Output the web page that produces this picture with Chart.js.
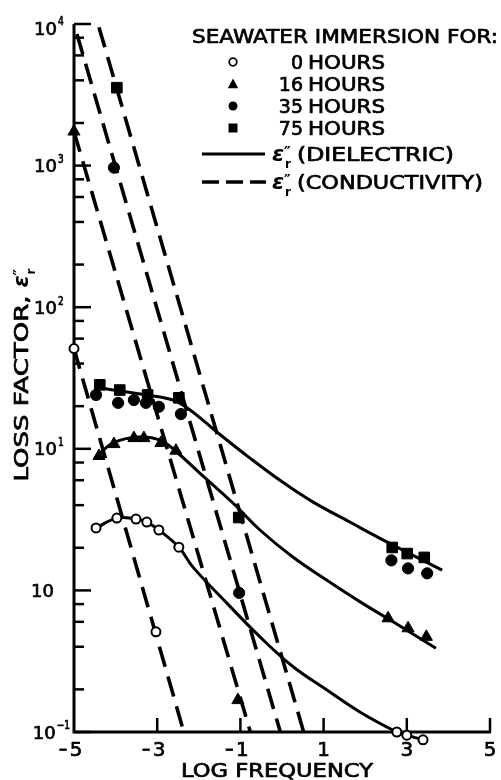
<!DOCTYPE html>
<html><head><meta charset="utf-8">
<script src="https://cdn.jsdelivr.net/npm/chart.js@4.4.1/dist/chart.umd.min.js"></script>
<style>html,body{margin:0;padding:0;background:#fff;}#wrap{position:relative;width:501px;height:780px;}</style>
</head><body><div id="wrap"><canvas id="c" width="501" height="780"></canvas></div>
<script>
// ---------- text / ticks ----------
const xTickValues = [-5, -3, -1, 1, 3, 5];
const xTickLabels = ['−5', '−3', '−1', '1', '3', '5'];
const yTickValues = [0.1, 1, 10, 100, 1000, 10000];
const yTickBase = ['10', '10', '10', '10', '10', '10'];
const yTickExp = ['−1', '', '1', '2', '3', '4'];
const yMinorTicks = [0.2, 0.4, 0.6, 0.8, 2, 4, 6, 8, 20, 40, 60, 80, 200, 400, 600, 800, 2000, 4000, 6000, 8000];
const legendTitle = 'SEAWATER IMMERSION FOR:';
const seriesNames = ['0 HOURS', '16 HOURS', '35 HOURS', '75 HOURS'];
const lineNames = ['(DIELECTRIC)', '(CONDUCTIVITY)'];
const xTitle = 'LOG FREQUENCY';
const yTitle = 'LOSS FACTOR,';

// ---------- measured points ----------
const h0X = [-5, -4.47, -3.97, -3.51, -3.25, -2.96, -2.48, -3.03, 2.76, 3.00, 3.39];
const h0Y = [51, 2.76, 3.24, 3.19, 3.04, 2.67, 2.02, 0.51, 0.1, 0.095, 0.088];
const h16X = [-5, -4.40, -4.04, -3.56, -3.32, -2.91, -2.55, -1.06, 2.55, 3.03, 3.47];
const h16Y = [1740, 8.9, 10.8, 11.9, 11.9, 11.0, 9.7, 0.168, 0.635, 0.54, 0.47];
const h35X = [-4.04, -4.47, -3.94, -3.56, -3.27, -2.96, -2.43, -1.03, 2.63, 3.03, 3.49];
const h35Y = [968, 24.0, 21.1, 22.1, 21.1, 19.8, 17.6, 0.96, 1.63, 1.43, 1.32];
const h75X = [-3.97, -4.38, -3.90, -3.23, -2.48, -1.04, 2.65, 3.01, 3.42];
const h75Y = [3550, 28.3, 26.0, 24.0, 22.9, 3.27, 2.01, 1.82, 1.71];

// ---------- dielectric curves (solid) ----------
const d0X = [-4.47, -3.97, -3.51, -3.25, -2.96, -2.48, -2.14, -1.32, -0.53, 0.26, 1.08, 1.88, 2.76, 3.00, 3.39];
const d0Y = [2.76, 3.24, 3.19, 3.04, 2.67, 2.02, 1.46, 0.81, 0.47, 0.29, 0.198, 0.138, 0.1, 0.095, 0.088];
const d16X = [-4.42, -4.06, -3.46, -2.93, -2.50, -1.97, -1.18, -0.53, 0.26, 1.08, 1.88, 2.67, 3.70];
const d16Y = [9.04, 11.0, 12.1, 11.5, 9.3, 6.7, 4.14, 2.67, 1.72, 1.18, 0.83, 0.60, 0.39];
const d75X = [-4.45, -4.06, -3.25, -2.62, -2.21, -1.56, -0.77, 0.02, 0.75, 1.63, 2.52, 3.85];
const d75Y = [27.3, 26.0, 24.0, 22.1, 18.8, 13.1, 8.6, 5.8, 4.2, 3.04, 2.2, 1.39];

// ---------- conductivity lines (dashed) ----------
const c0X = [-5, -2.36], c0Y = [51, 0.1];
const c16X = [-5, -0.76], c16Y = [1740, 0.1];
const c35X = [-4.93, -0.04], c35Y = [8500, 0.1];
const c75X = [-4.40, 0.52], c75Y = [9500, 0.1];

const pts = (xs, ys) => xs.map((v, i) => ({x: v, y: ys[i]}));
const FONT = '"DejaVu Sans", "Liberation Sans", sans-serif';

function markerSet(xs, ys, style, r, fill) {
  return {data: pts(xs, ys), showLine: false, pointStyle: style, pointRadius: r, pointHoverRadius: r,
    backgroundColor: fill, borderColor: '#000', borderWidth: fill === '#fff' ? 2 : 1, clip: false, order: 0};
}
function solidSet(xs, ys) {
  return {data: pts(xs, ys), showLine: true, pointRadius: 0, borderColor: '#000', borderWidth: 3,
    tension: 0.4, fill: false, clip: false, order: 1};
}
function dashSet(xs, ys) {
  return {data: pts(xs, ys), showLine: true, pointRadius: 0, borderColor: '#000', borderWidth: 3.6,
    borderDash: [21, 10], fill: false, clip: false, order: 2};
}

function txt(ctx, s, x, yc, size, o) {
  o = o || {};
  const align = o.align || 'left';
  ctx.save();
  ctx.font = (o.weight || 'normal') + ' ' + size + 'px ' + FONT;
  const w0 = ctx.measureText(s).width;
  const k = o.width ? o.width / w0 : (o.sx || 1);
  const w = w0 * k;
  const x0 = align === 'center' ? x - w / 2 : align === 'right' ? x - w : x;
  ctx.translate(x0, yc + size * 0.365);
  ctx.scale(k, 1);
  ctx.textAlign = 'left'; ctx.textBaseline = 'alphabetic'; ctx.fillStyle = '#000';
  ctx.strokeStyle = '#000'; ctx.lineWidth = 0.7; ctx.lineJoin = 'round';
  ctx.fillText(s, 0, 0);
  ctx.strokeText(s, 0, 0);
  ctx.restore();
  return w;
}
function eps(ctx, x, yc) {
  ctx.save(); ctx.fillStyle = '#000'; ctx.textAlign = 'left'; ctx.textBaseline = 'alphabetic';
  ctx.font = 'bold italic 22px ' + FONT; ctx.fillText('ε', x, yc + 7);
  ctx.font = 'bold 15px ' + FONT; ctx.fillText('″', x + 12, yc + 4);
  ctx.font = 'bold 12px ' + FONT; ctx.fillText('r', x + 13, yc + 14);
  ctx.restore();
  return 25;
}
function marker(ctx, style, x, y, r) {
  ctx.save(); ctx.fillStyle = '#000'; ctx.strokeStyle = '#000'; ctx.lineWidth = 1.8;
  ctx.beginPath();
  if (style === 'open') { ctx.arc(x, y, r, 0, 2 * Math.PI); ctx.fillStyle = '#fff'; ctx.fill(); ctx.stroke(); }
  else if (style === 'circle') { ctx.arc(x, y, r, 0, 2 * Math.PI); ctx.fill(); }
  else if (style === 'triangle') { ctx.moveTo(x, y - r); ctx.lineTo(x + r * 0.95, y + r * 0.75); ctx.lineTo(x - r * 0.95, y + r * 0.75); ctx.closePath(); ctx.fill(); }
  else { ctx.rect(x - r, y - r, 2 * r, 2 * r); ctx.fill(); }
  ctx.restore();
}
function seg(ctx, x1, y1, x2, y2) { ctx.beginPath(); ctx.moveTo(x1, y1); ctx.lineTo(x2, y2); ctx.stroke(); }

const axesPlugin = {
  id: 'axesPlugin',
  beforeDatasetsDraw(chart) {
    const {ctx, chartArea: a, scales: {x, y}} = chart;
    const yb = y.getPixelForValue(yTickValues[0]);
    ctx.save(); ctx.strokeStyle = '#000'; ctx.lineCap = 'butt';
    ctx.lineWidth = 3;
    ctx.beginPath(); ctx.moveTo(a.left, a.top); ctx.lineTo(a.left, yb); ctx.lineTo(a.right + 1, yb); ctx.stroke();
    ctx.lineWidth = 2.5;
    yTickValues.forEach(v => { const p = y.getPixelForValue(v); seg(ctx, a.left, p, a.left + 17, p); });
    yMinorTicks.forEach(v => { const p = y.getPixelForValue(v); seg(ctx, a.left, p, a.left + 10, p); });
    xTickValues.forEach(v => { if (v === x.min) return; const p = x.getPixelForValue(v); seg(ctx, p, yb, p, yb - 14); });
    ctx.restore();
  },
  afterDraw(chart) {
    const {ctx, chartArea: a, scales: {x, y}} = chart;
    const yb = y.getPixelForValue(yTickValues[0]);
    // y tick labels
    yTickValues.forEach((v, i) => {
      const p = Math.max(y.getPixelForValue(v), a.top + 4);
      let ew = 0;
      if (yTickExp[i]) {
        ctx.save(); ctx.font = '12px ' + FONT; ew = ctx.measureText(yTickExp[i]).width * 0.75; ctx.restore();
      }
      const baseRight = yTickExp[i] ? Math.min(57, 69 - ew) : 54;
      txt(ctx, yTickBase[i], baseRight, p, 18, {align: 'right'});
      if (yTickExp[i]) txt(ctx, yTickExp[i], baseRight + 1, p - 7, 12, {sx: 0.75});
    });
    // x tick labels
    xTickValues.forEach((v, i) => {
      const p = x.getPixelForValue(v);
      const s = xTickLabels[i];
      const neg = s.charAt(0) === '−';
      const d = neg ? s.slice(1) : s;
      const w = txt(ctx, d, p + (neg ? 2 : 0), yb + 17, 20, {align: 'center'});
      if (neg) txt(ctx, '−', p + 2 - w / 2 - 2, yb + 17, 20, {align: 'right', sx: 0.55});
    });
    // axis titles
    txt(ctx, xTitle, (a.left + a.right) / 2 - 5, yb + 38, 19, {align: 'center', width: 192});
    ctx.save();
    ctx.translate(21, 372); ctx.rotate(-Math.PI / 2);
    const tw = 186, total = tw + 8 + 25;
    txt(ctx, yTitle, -total / 2, 0, 19, {width: tw});
    eps(ctx, -total / 2 + tw + 8, 0);
    ctx.restore();
    // legend
    txt(ctx, legendTitle, 192, 36, 19, {width: 306});
    const rows = [62, 84, 106, 128];
    const styles = ['open', 'triangle', 'circle', 'rect'];
    const rads = [3.8, 5.5, 4.5, 4.5];
    seriesNames.forEach((s, i) => {
      marker(ctx, styles[i], 233, rows[i], rads[i]);
      const sp = s.indexOf(' ');
      txt(ctx, s.slice(0, sp), 303, rows[i], 19, {align: 'right', sx: 1.0});
      txt(ctx, s.slice(sp + 1), 308, rows[i], 19, {width: 77});
    });
    ctx.save(); ctx.strokeStyle = '#000';
    ctx.lineWidth = 3; seg(ctx, 202, 154, 265, 154);
    ctx.lineWidth = 3.6; ctx.setLineDash([17, 7]); seg(ctx, 202, 182, 266, 182);
    ctx.restore();
    eps(ctx, 272, 154); txt(ctx, lineNames[0], 297, 154, 19, {width: 157});
    eps(ctx, 272, 182); txt(ctx, lineNames[1], 297, 182, 19, {width: 186});
  }
};

new Chart(document.getElementById('c'), {
  type: 'scatter',
  data: {
    datasets: [
      markerSet(h0X, h0Y, 'circle', 4.5, '#fff'),
      markerSet(h16X, h16Y, 'triangle', 7, '#000'),
      markerSet(h35X, h35Y, 'circle', 5.6, '#000'),
      markerSet(h75X, h75Y, 'rect', 7.5, '#000'),
      solidSet(d0X, d0Y),
      solidSet(d16X, d16Y),
      solidSet(d75X, d75Y),
      dashSet(c0X, c0Y),
      dashSet(c16X, c16Y),
      dashSet(c35X, c35Y),
      dashSet(c75X, c75Y)
    ]
  },
  options: {
    responsive: false, animation: false, devicePixelRatio: 1, events: [],
    // 0.1 sits at y=732; the area extends one tenth of a decade lower so marks below the axis still draw
    layout: {padding: {left: 74, right: 11, top: 24, bottom: 33.84}},
    plugins: {legend: {display: false}, tooltip: {enabled: false}},
    scales: {
      x: {type: 'linear', min: -5, max: 5, display: false},
      y: {type: 'logarithmic', min: 0.07943, max: 10000, display: false}
    }
  },
  plugins: [axesPlugin]
});
</script></body></html>
